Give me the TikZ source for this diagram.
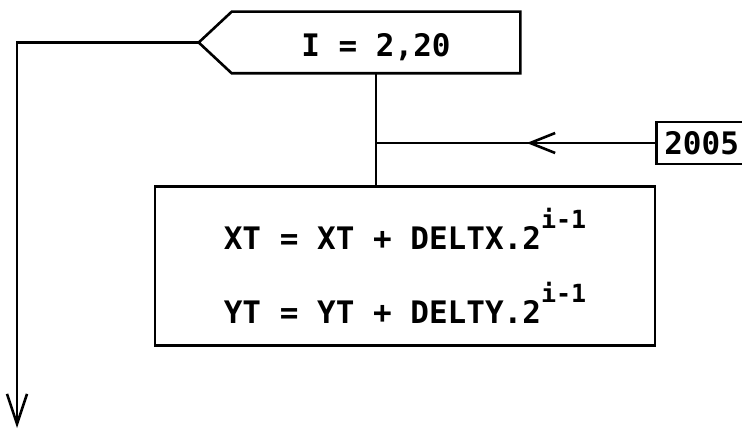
\documentclass[tikz,border=0pt]{standalone}
\usepackage{fontspec}
\usepackage{tikz}
\usetikzlibrary{arrows.meta,positioning,calc,decorations.markings}
\newfontfamily\flowfont{DejaVu Sans Mono}
\newcommand{\powexp}{\raisebox{21pt}{\fontsize{25}{25}\selectfont i-1}}

\begin{document}
\begin{tikzpicture}[x=1pt, y=1pt, line width=2.6pt,
  every node/.style={font=\flowfont\bfseries\fontsize{31}{74}\selectfont, inner sep=0pt},
  loopbox/.style={minimum width=286pt, minimum height=59pt, text height=28pt, text depth=0pt},
  procbox/.style={draw, minimum width=500pt, minimum height=159pt, align=left},
  srcbox/.style={draw, inner xsep=8pt, minimum height=42pt},
  midarrow/.style={postaction={decorate}, decoration={markings,
    mark=at position 0.46 with {\arrow{Straight Barb[length=25pt, width=20pt]}}}}]
\useasboundingbox (0,0) rectangle (742,-430);
\node (loop) [loopbox] at (376,-42.5) {I = 2,20};
\node (proc) [procbox, below=112pt of loop.south, xshift=29pt] {XT = XT + DELTX.2\powexp\\YT = YT + DELTY.2\powexp};
\node (src) [srcbox, anchor=west] at (655,-143) {2005};
\coordinate (tip) at ($(loop.west)+(-33,0)$);
\coordinate (join) at (loop.south |- src.west);
\coordinate (exit) at (17,-428);
% loop header
\draw (loop.north west) -- (loop.north east) -- (loop.south east) -- (loop.south west) -- (tip) -- cycle;
\draw (loop.south) -- (loop.south |- proc.north);
\draw[midarrow] (src.west) -- (join);
\draw[-{Straight Barb[length=30pt, width=20pt]}] (tip) -| (exit);
\end{tikzpicture}
\end{document}
